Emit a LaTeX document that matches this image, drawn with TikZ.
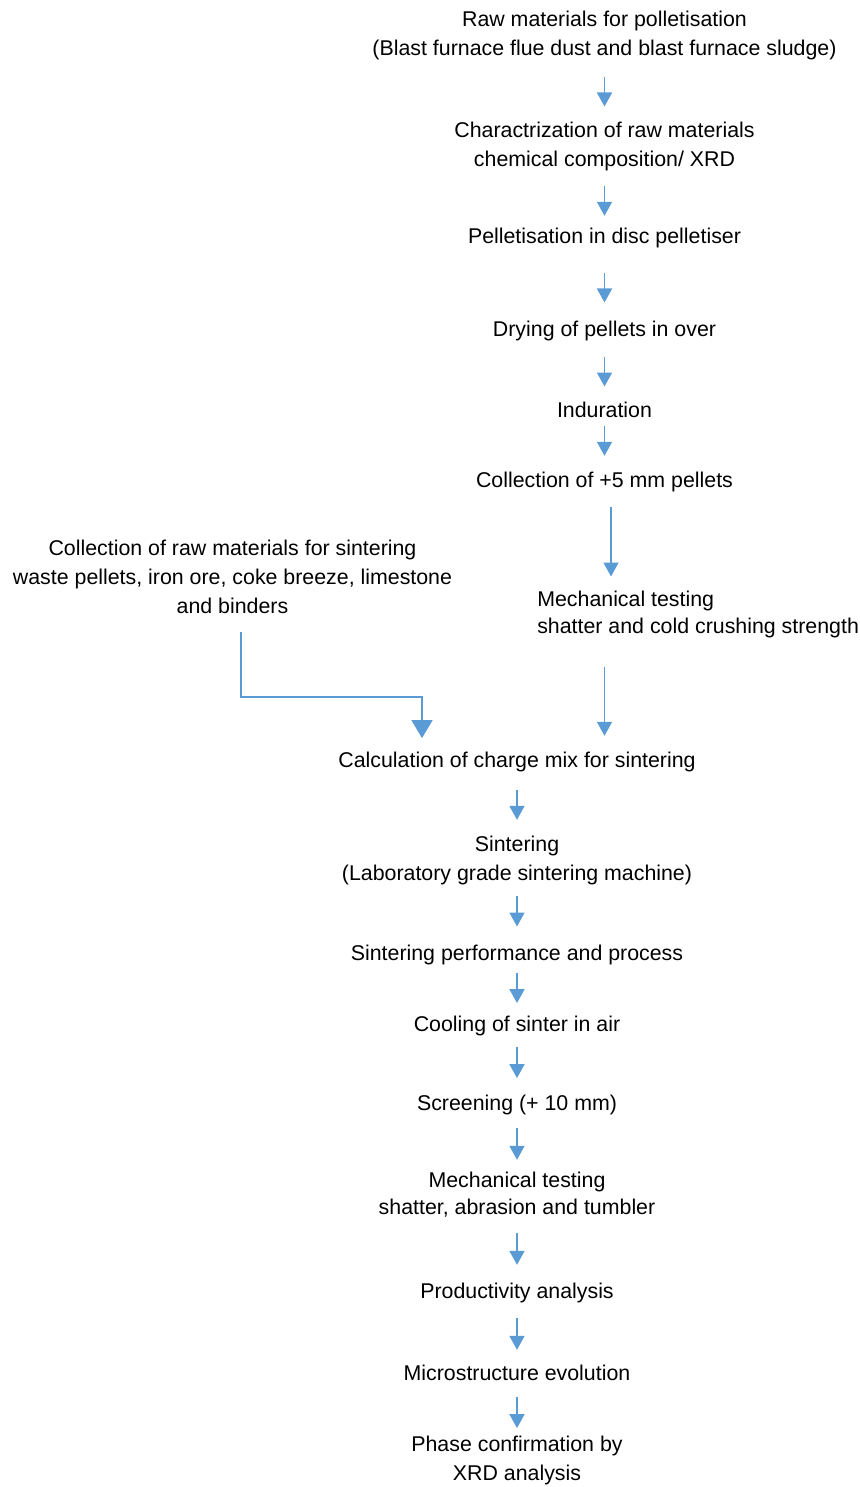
\documentclass[tikz,border=0pt]{standalone}
\usepackage{fontspec}
\setmainfont{Liberation Sans}
\usetikzlibrary{positioning, arrows.meta}
\definecolor{flowblue}{RGB}{91,155,213}

\begin{document}
\begin{tikzpicture}[
        x=1pt, y=-1pt,
        % testo dei singoli passi
        stage/.style={
            inner sep=0pt,
            outer sep=0pt,
            align=center,
            anchor=north,
            font=\fontsize{21.35}{29}\selectfont
        },
        % frecce blu
        flow/.style={draw=flowblue, line width=1.7pt, -{Triangle[width=15pt,length=14pt]}},
        bigflow/.style={draw=flowblue, line width=1.7pt, -{Triangle[width=21pt,length=18pt]}},
    ]
    \useasboundingbox (0,0) rectangle (859,1487);

    % ramo della pellettizzazione
    \node[stage] (raw) at (604.5,10.6) {Raw materials for polletisation\\ (Blast furnace flue dust and blast furnace sludge)};
    \node[stage] (char) at (604.5,121.6) {Charactrization of raw materials\\ chemical composition/ XRD};
    \node[stage] (pell) at (604.5,227.9) {Pelletisation in disc pelletiser};
    \node[stage] (dry) at (604.5,321.3) {Drying of pellets in over};
    \node[stage] (ind) at (604.5,401.9) {Induration};
    \node[stage] (coll) at (604.5,471.9) {Collection of +5 mm pellets};
    \node[stage, align=left, anchor=north west] (mech) at (537.3,591.3) {Mechanical testing\\[-2pt] shatter and cold crushing strength};

    % materie prime per la sinterizzazione
    \node[stage] (sinraw) at (232.5,540.1) {Collection of raw materials for sintering\\ waste pellets, iron ore, coke breeze, limestone\\ and binders};

    % ramo della sinterizzazione
    \node[stage] (charge) at (517,751.6) {Calculation of charge mix for sintering};
    \node[stage] (sint) at (517,835.6) {Sintering\\ (Laboratory grade sintering machine)};
    \node[stage] (perf) at (517,944.6) {Sintering performance and process};
    \node[stage] (cool) at (517,1016.3) {Cooling of sinter in air};
    \node[stage] (screen) at (517,1094.6) {Screening (+ 10 mm)};
    \node[stage] (mtest) at (517,1171.6) {Mechanical testing\\[-1.3pt] shatter, abrasion and tumbler};
    \node[stage] (prod) at (517,1282.9) {Productivity analysis};
    \node[stage] (micro) at (517,1364.6) {Microstructure evolution};
    \node[stage] (phase) at (517,1436.3) {Phase confirmation by\\ XRD analysis};

    \coordinate (join) at (422,696.7);

    \draw[flow, shorten <=17.3pt, shorten >=15.1pt] (raw) -- (char);
    \draw[flow, shorten <=15.6pt, shorten >=12.1pt] (char) -- (pell);
    \draw[flow, shorten <=25.3pt, shorten >=18.8pt] (pell) -- (dry);
    \draw[flow, shorten <=15.6pt, shorten >=15.4pt] (dry) -- (ind);
    \draw[flow, shorten <=8.4pt, shorten >=16.1pt] (ind) -- (coll);
    \draw[flow, shorten <=15.6pt, shorten >=14.8pt] ([xshift=6.5pt]coll.south) -- ([xshift=6.5pt]coll.south |- mech.north);
    \draw[flow, shorten <=28.3pt, shorten >=15.8pt] (coll.south |- mech.south) -- (coll.south |- charge.north);

    % freccia ad angolo
    \draw[bigflow, shorten <=17.9pt, shorten >=13.5pt] ([xshift=8.2pt]sinraw.south) |- (join) -- (join |- charge.north);

    \draw[flow, shorten <=18.6pt, shorten >=15.8pt] (charge) -- (sint);
    \draw[flow, shorten <=11.6pt, shorten >=18.1pt] (sint) -- (perf);
    \draw[flow, shorten <=8.3pt, shorten >=13.2pt] (perf) -- (cool);
    \draw[flow, shorten <=10.6pt, shorten >=16.5pt] (cool) -- (screen);
    \draw[flow, shorten <=13.9pt, shorten >=11.8pt] (screen) -- (mtest);
    \draw[flow, shorten <=15.2pt, shorten >=18.1pt] (mtest) -- (prod);
    \draw[flow, shorten <=15.6pt, shorten >=14.8pt] (prod) -- (micro);
    \draw[flow, shorten <=16.4pt, shorten >=8.2pt] (micro) -- (phase);

\end{tikzpicture}
\end{document}
